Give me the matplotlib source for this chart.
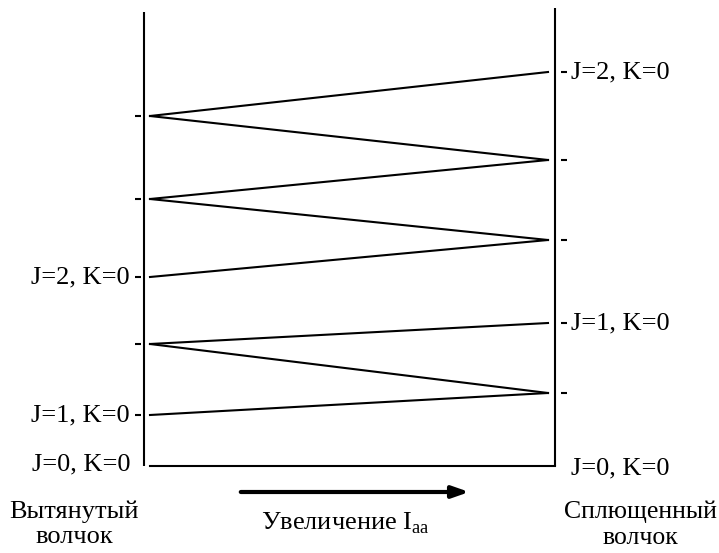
import matplotlib
matplotlib.use("Agg")
import matplotlib.pyplot as plt

# Energy levels (arbitrary units, 0 = ground level)
left_levels = [0, 51, 122, 189, 267, 350]     # prolate top (Вытянутый волчок)
right_levels = [0, 73, 143, 226, 306, 394]    # oblate top (Сплющенный волчок)
# correlation lines: (index on left, index on right)
links = [(0, 0), (1, 1), (2, 1), (2, 2), (3, 3), (4, 3), (4, 4), (5, 4), (5, 5)]
left_labels = {0: "J=0, K=0", 1: "J=1, K=0", 3: "J=2, K=0"}
right_labels = {0: "J=0, K=0", 2: "J=1, K=0", 5: "J=2, K=0"}
left_top, right_top = 454, 458

plt.rcParams['font.family'] = ['Liberation Serif', 'DejaVu Serif']

fig = plt.figure(figsize=(7.19, 5.53), dpi=100)
ax = fig.add_axes([0, 0, 1, 1])
ax.set_xlim(0, 719)
ax.set_ylim(-87, 466)
ax.axis('off')

xl, xr = 144, 555
lw = 1.5
ax.plot([xl, xl], [0, left_top], color='black', lw=lw, solid_capstyle='butt')
ax.plot([xr, xr], [0, right_top], color='black', lw=lw, solid_capstyle='butt')

for i, j in links:
    if i == 0 and j == 0:
        ax.plot([xl + 6, xr], [left_levels[i], right_levels[j]], color='black', lw=lw)
    else:
        ax.plot([xl + 6, xr - 7], [left_levels[i], right_levels[j]], color='black', lw=lw)

for k, e in enumerate(left_levels):
    if k > 0:
        ax.plot([xl - 9, xl - 3], [e, e], color='black', lw=lw, solid_capstyle='butt')
for k, e in enumerate(right_levels):
    if k > 0:
        ax.plot([xr + 6, xr + 12], [e, e], color='black', lw=lw, solid_capstyle='butt')

fs = 19
for k, t in left_labels.items():
    ax.text(xl - 14, left_levels[k] + (2 if k == 0 else 0), t, ha='right', va='center', fontsize=fs)
for k, t in right_labels.items():
    ax.text(xr + 16, right_levels[k] - (2 if k == 0 else 0), t, ha='left', va='center', fontsize=fs)

ax.annotate("", xy=(472, -26), xytext=(238, -26),
            arrowprops=dict(arrowstyle='-|>,head_length=1.0,head_width=0.35', color='black', lw=3))
ax.text(345, -57, r"Увеличение I$_{\mathregular{aa}}$", ha='center', va='center', fontsize=fs)
ax.text(74, -58, "Вытянутый\nволчок", ha='center', va='center', fontsize=fs, linespacing=1.2)
ax.text(640, -59, "Сплющенный\nволчок", ha='center', va='center', fontsize=18.5, linespacing=1.25)

fig.savefig("out.png", dpi=100)
